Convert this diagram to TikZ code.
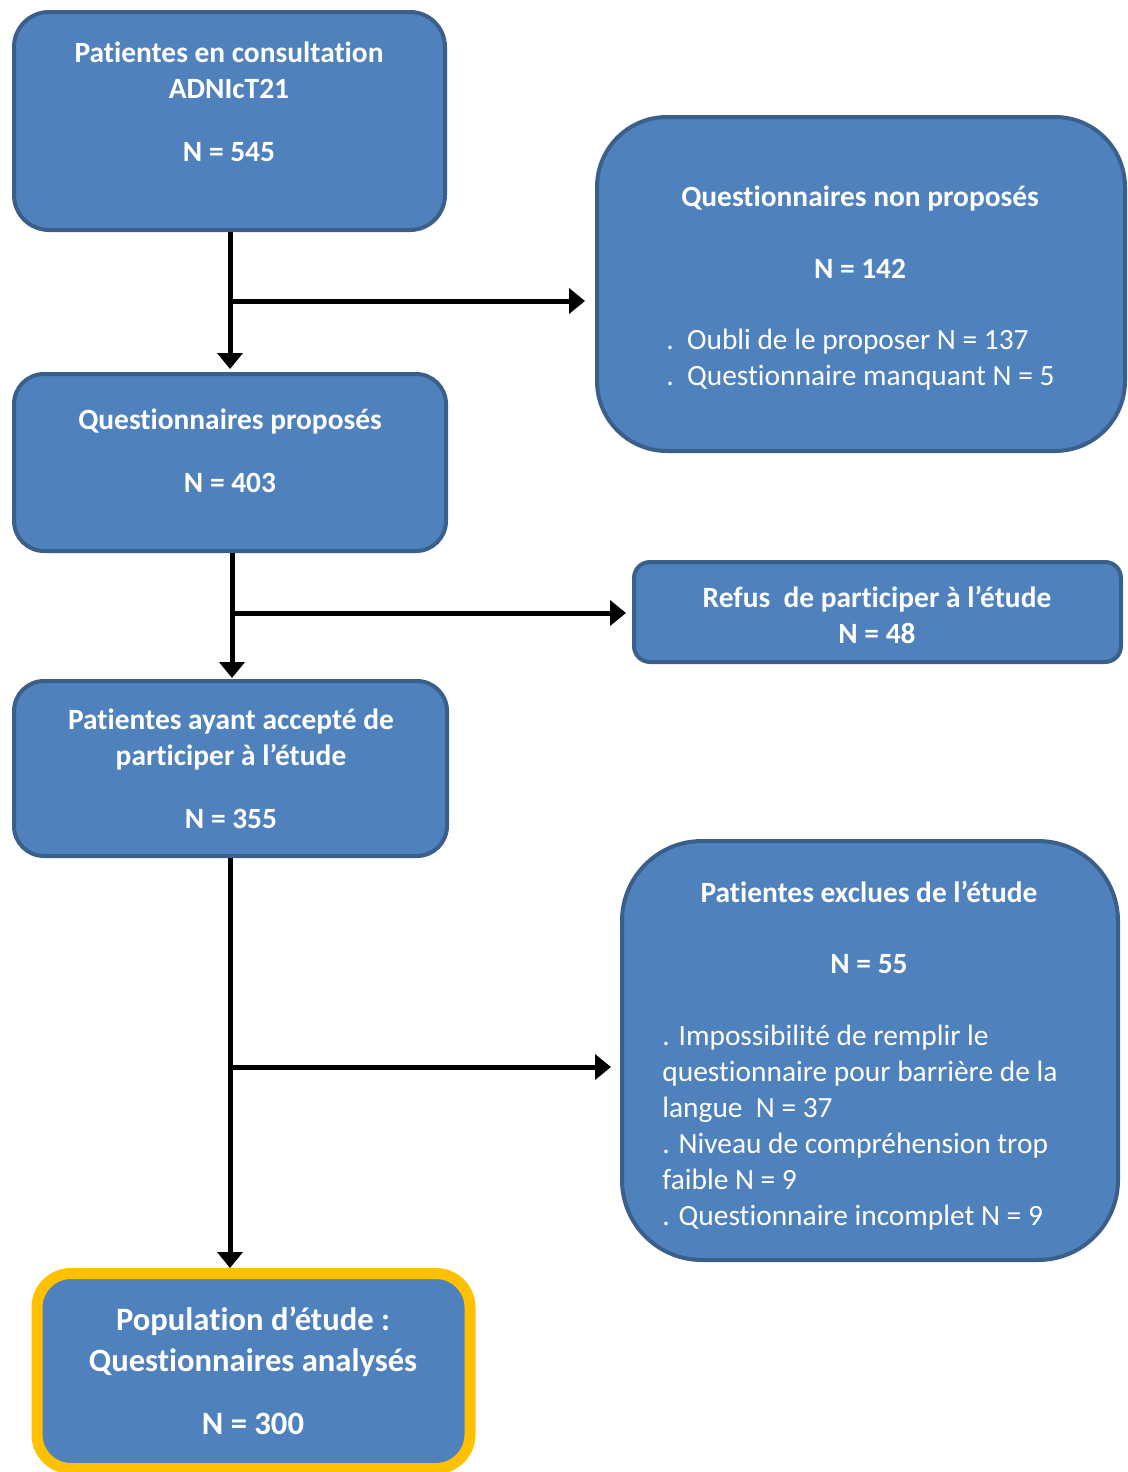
\documentclass[tikz,border=0pt]{standalone}
\usepackage{fontspec}
\setmainfont{Carlito}[Ligatures=NoCommon]
\usetikzlibrary{arrows.meta}
\definecolor{boxfill}{HTML}{4F81BD}
\definecolor{boxline}{HTML}{3A5F8B}
\definecolor{gold}{HTML}{FFC000}
\tikzset{
  box/.style={draw=boxline, fill=boxfill, line width=2pt, inner sep=0pt},
  goldbox/.style={draw=gold, fill=boxfill, line width=5.5pt, inner sep=0pt},
  ttl/.style={text=white, font=\fontsize{14.7pt}{18pt}\selectfont\bfseries, align=center, inner sep=0pt},
  lst/.style={text=white, font=\fontsize{14.7pt}{18pt}\selectfont, align=left, inner sep=0pt, anchor=west},
  arr/.style={line width=2.5pt, -{Triangle[length=8pt,width=12.5pt]}},
}
\begin{document}
\begin{tikzpicture}[x=0.5pt,y=-0.5pt]
\useasboundingbox (0,0) rectangle (1128,1472);
% boxes
\node[box, minimum width=215.5pt, minimum height=109pt, rounded corners=17.5pt] (b1) at (229.5,121) {};
\node[box, minimum width=264pt, minimum height=167pt, rounded corners=35pt] (b2) at (861,284) {};
\node[box, minimum width=216pt, minimum height=88.5pt, rounded corners=15pt] (b3) at (230,462.5) {};
\node[box, minimum width=243.5pt, minimum height=50pt, rounded corners=8pt] (b4) at (877.5,612) {};
\node[box, minimum width=216.5pt, minimum height=87.5pt, rounded corners=15pt] (b5) at (230.5,768.5) {};
\node[box, minimum width=248pt, minimum height=209.5pt, rounded corners=40pt] (b6) at (870,1050.5) {};
\node[goldbox, minimum width=216.5pt, minimum height=97.5pt, rounded corners=17pt] (b7) at (253.5,1371) {};
% texts
\node[ttl] (t1) at (229,101.5) {Patientes en consultation\\ADNIcT21\\[13.5pt]N = 545};
\node[ttl] (t2) at (860,232) {Questionnaires non proposés\\[18pt]N = 142};
\node[lst] (l2) at (666,360) {.\ \ Oubli de le proposer N = 137\\.\ \ Questionnaire manquant N = 5};
\node[ttl] (t3) at (230,450.5) {Questionnaires proposés\\[13.5pt]N = 403};
\node[ttl] (t4) at (877,615) {Refus\ \ de participer à l’étude\\N = 48};
\node[ttl] (t5) at (231,768.5) {Patientes ayant accepté de\\participer à l’étude\\[13.5pt]N = 355};
\node[ttl] (t6) at (869,927.5) {Patientes exclues de l’étude\\[17.5pt]N = 55};
\node[lst] (l6) at (662,1127.5) {. Impossibilité de remplir le\\questionnaire pour barrière de la\\langue\ \ N = 37\\. Niveau de compréhension trop\\faible N = 9\\. Questionnaire incomplet N = 9};
\node[ttl, font=\fontsize{16.3pt}{20.5pt}\selectfont\bfseries] (t7) at (253,1371) {Population d’étude :\\Questionnaires analysés\\[11pt]N = 300};
% connectors
\coordinate (j1) at (230,301);
\coordinate (j2) at (232,613);
\coordinate (j3) at (230,1067);
\draw[arr, shorten >=1.5pt] (j1 |- b1.south) -- (j1 |- b3.north);
\draw[arr, shorten >=5pt] (j1) -- (j1 -| b2.west);
\draw[arr, shorten >=0.5pt] (j2 |- b3.south) -- (j2 |- b5.north);
\draw[arr, shorten >=3pt] (j2) -- (j2 -| b4.west);
\draw[arr, shorten >=0pt] (j3 |- b5.south) -- (j3 |- b7.north);
\draw[arr, shorten >=4.5pt] (j3) -- (j3 -| b6.west);
\end{tikzpicture}
\end{document}
